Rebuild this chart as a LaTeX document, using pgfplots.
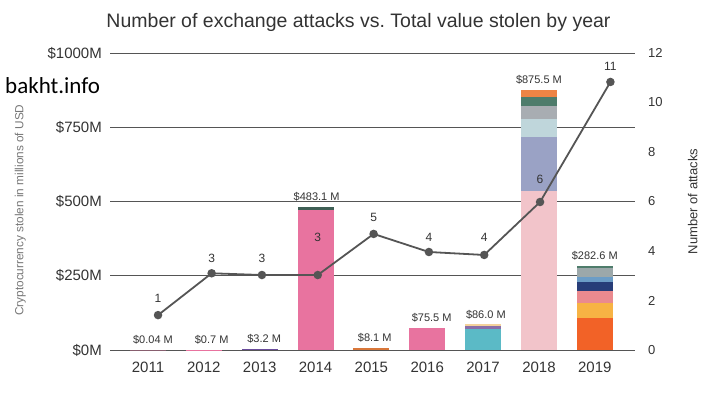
\documentclass[border=0pt]{standalone}
\usepackage{pgfplots}
\pgfplotsset{compat=1.18}
\usepackage{pgfplotstable}
\usepackage{fontspec}
\setmainfont{Liberation Sans}
\newfontfamily\wmfont{Carlito}
\definecolor{txt}{HTML}{333333}
\definecolor{gridc}{HTML}{555555}
\definecolor{linec}{HTML}{555555}
\definecolor{pinkA}{HTML}{E8739F}
\definecolor{pinkD}{HTML}{C95A85}
\definecolor{darkG}{HTML}{3F5F55}
\definecolor{purp}{HTML}{6A4C9C}
\definecolor{orng}{HTML}{D9773A}
\definecolor{teal}{HTML}{5BBAC6}
\definecolor{purp2}{HTML}{8A6FA8}
\definecolor{ylw2}{HTML}{F4D29B}
\definecolor{lpink}{HTML}{F2C4CA}
\definecolor{slate}{HTML}{9AA2C5}
\definecolor{lblue}{HTML}{BFD6DB}
\definecolor{gray1}{HTML}{A8ADB2}
\definecolor{green1}{HTML}{4E7C6B}
\definecolor{orng2}{HTML}{EE8445}
\definecolor{gray2}{HTML}{9CA8AA}
\definecolor{blue2}{HTML}{6C9DC6}
\definecolor{navy}{HTML}{273D78}
\definecolor{salmon}{HTML}{EA8A8F}
\definecolor{ylw}{HTML}{F7B344}
\definecolor{redo}{HTML}{F26227}
\definecolor{labg}{HTML}{777777}
\newcommand\seg[3]{\addplot[ybar, bar shift=0pt, bar width=36pt, draw=none, fill=#1] coordinates {(#2,#3)};}
\pgfplotstableread{
x y lab off
0.18 1.41 1 17
1.14 3.10 3 15
2.04 3.03 3 17
3.04 3.03 3 38
4.04 4.69 5 16
5.03 3.96 4 15
6.02 3.84 4 18
7.02 5.98 6 23
8.28 10.83 11 16
}\attacks
\begin{document}
\begin{tikzpicture}
\useasboundingbox (0pt,0pt) rectangle (715pt,392pt);
\node[font=\fontsize{19.5}{22}\selectfont, text=txt] at (358.5pt,370pt) {Number of exchange attacks vs.\ Total value stolen by year};
\node[font=\wmfont\fontsize{23}{26}\selectfont, anchor=west, inner sep=0pt] at (5pt,306pt) {bakht.info};
\begin{axis}[
  at={(110pt,42pt)}, anchor=south west, scale only axis,
  width=525pt, height=297pt,
  xmin=-0.68, xmax=8.72, ymin=0, ymax=1000,
  clip=false,
  axis line style={draw=none},
  major tick length=0pt,
  xtick={0,...,8},
  xticklabels={2011,2012,2013,2014,2015,2016,2017,2018,2019},
  xticklabel style={font=\fontsize{15}{17}\selectfont, text=txt, anchor=center, yshift=-17pt},
  ytick={0,250,500,750,1000},
  yticklabels={\$0M,\$250M,\$500M,\$750M,\$1000M},
  yticklabel style={font=\fontsize{15}{17}\selectfont, text=txt, anchor=east, inner sep=0pt, xshift=-8pt},
  ymajorgrids, grid style={gridc, line width=0.9pt},
  ylabel={Cryptocurrency stolen in millions of USD},
  ylabel style={at={(axis description cs:-0.171,0.471)}, anchor=center, font=\fontsize{11.8}{13}\selectfont, text=labg},
  nodes near coords style={font=\fontsize{11}{13}\selectfont, text=txt, anchor=center, yshift=10pt},
]
% 2011-2013
\seg{pinkA}{0}{0.04}
\seg{pinkA}{1}{0.7}
\seg{purp}{2}{3.2}
% 2014
\seg{darkG}{3}{483.1}
\seg{pinkA}{3}{473}
% 2015
\seg{orng}{4}{8.1}
% 2016
\seg{pinkD}{5}{75.5}
\seg{pinkA}{5}{73.5}
% 2017
\seg{ylw2}{6}{86}
\seg{purp2}{6}{81}
\seg{teal}{6}{71}
% 2018
\seg{orng2}{7}{875.5}
\seg{green1}{7}{852.5}
\seg{gray1}{7}{820.5}
\seg{lblue}{7}{777.5}
\seg{slate}{7}{716.5}
\seg{lpink}{7}{536.5}
% 2019
\seg{green1}{8}{282.6}
\seg{gray2}{8}{275.6}
\seg{blue2}{8}{245}
\seg{navy}{8}{229}
\seg{salmon}{8}{198}
\seg{ylw}{8}{159}
\seg{redo}{8}{108}
% value labels
\addplot[ybar, bar shift=0pt, bar width=1pt, draw=none, fill=none, nodes near coords, point meta=explicit symbolic] coordinates {
(0.09,0.04) [\$0.04 M]
(1.14,0.7) [\$0.7 M]
(2.08,3.2) [\$3.2 M]
(3.02,483.1) [\$483.1 M]
(4.06,8.1) [\$8.1 M]
(5.08,75.5) [\$75.5 M]
(6.05,86.0) [\$86.0 M]
(7.0,875.5) [\$875.5 M]
(8.0,282.6) [\$282.6 M]
};
\end{axis}
\begin{axis}[
  at={(110pt,42pt)}, anchor=south west, scale only axis,
  width=525pt, height=297pt,
  xmin=-0.68, xmax=8.72, ymin=0, ymax=12,
  clip=false,
  axis y line*=right,
  hide x axis,
  axis line style={draw=none},
  major tick length=0pt,
  ytick={0,2,...,12},
  /pgf/number format/assume math mode=true,
  yticklabel style={font=\fontsize{13}{15}\selectfont, text=txt, anchor=west, inner sep=0pt, xshift=13pt},
  ylabel={Number of attacks},
  ylabel style={at={(axis description cs:1.110,0.5)}, anchor=center, rotate=0, font=\fontsize{13}{15}\selectfont, text=txt},
]
\addplot[color=linec, line width=1.8pt, mark=*, mark size=3.3pt, mark options={fill=linec, draw=linec},
  nodes near coords, point meta=explicit symbolic,
  visualization depends on={\thisrow{off}\as\myoff},
  every node near coord/.append style={font=\fontsize{12}{14}\selectfont, text=txt, anchor=center, yshift=\myoff pt}]
  table[x=x, y=y, meta=lab] {\attacks};
\end{axis}
\end{tikzpicture}
\end{document}
